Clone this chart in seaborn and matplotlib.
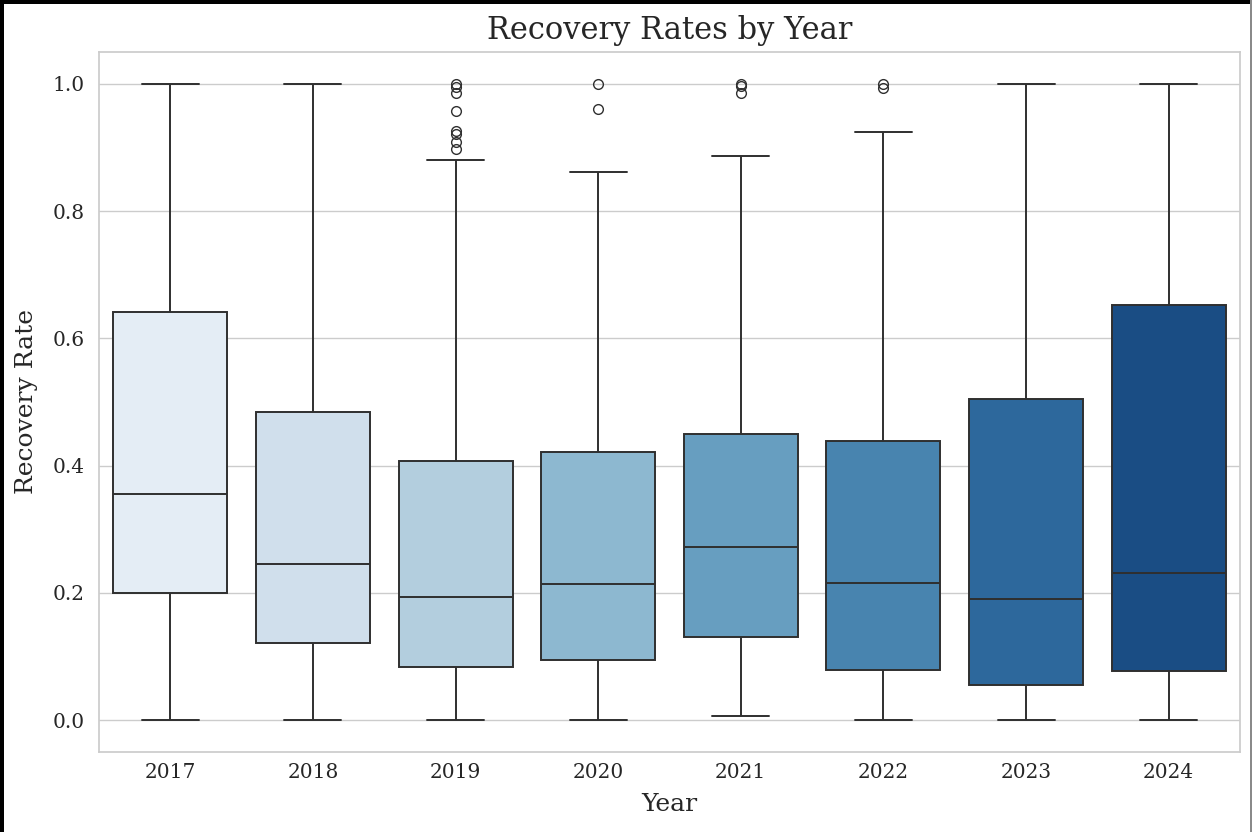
import matplotlib
matplotlib.use("Agg")
import matplotlib.pyplot as plt
from matplotlib.lines import Line2D
import seaborn as sns
import pandas as pd

# Summary statistics of recovery rates per year
years = ["2017", "2018", "2019", "2020", "2021", "2022", "2023", "2024"]
lower_whisker = [0.000, 0.000, 0.000, 0.000, 0.006, 0.000, 0.000, 0.000]
q1 = [0.200, 0.122, 0.084, 0.095, 0.130, 0.079, 0.055, 0.077]
median = [0.356, 0.245, 0.194, 0.214, 0.272, 0.216, 0.190, 0.231]
q3 = [0.641, 0.484, 0.407, 0.422, 0.449, 0.438, 0.505, 0.653]
upper_whisker = [1.000, 1.000, 0.880, 0.862, 0.887, 0.924, 1.000, 1.000]
outliers = [
    [],
    [],
    [1.000, 0.995, 0.985, 0.957, 0.926, 0.921, 0.908, 0.898],
    [1.000, 0.960],
    [1.000, 0.997, 0.985],
    [1.000, 0.994],
    [],
    [],
]


def year_sample(lo, a, m, b, hi, extra):
    """Observations whose quartiles, whiskers and fliers equal the given values."""
    top = [hi] + list(extra)
    k = len(top)
    return ([lo] + [a] * (k - 1) + [a] + [m] * (k - 1) + [m]
            + [b] * (k - 1) + [b] + top)


rows = []
for i, yr in enumerate(years):
    for v in year_sample(lower_whisker[i], q1[i], median[i], q3[i],
                         upper_whisker[i], outliers[i]):
        rows.append({"Year": yr, "Recovery Rate": v})
df = pd.DataFrame(rows)

sns.set_theme(style="whitegrid")
plt.rcParams["font.family"] = ["DejaVu Serif"]

W, H = 1252, 832
fig = plt.figure(figsize=(W / 100, H / 100), dpi=100)
ax = fig.add_axes([99 / W, 1 - 752 / H, (1240 - 99) / W, (752 - 52) / H])

sns.boxplot(data=df, x="Year", y="Recovery Rate", hue="Year",
            palette=sns.color_palette("Blues", len(years)), legend=False,
            order=years, hue_order=years, linewidth=1.4, fliersize=7,
            ax=ax)

ax.set_title("Recovery Rates by Year", fontsize=22, pad=9)
ax.set_xlabel("Year", fontsize=18, labelpad=8)
ax.set_ylabel("Recovery Rate", fontsize=18, labelpad=11)
ax.tick_params(axis="both", labelsize=14.5, length=0)
ax.tick_params(axis="y", pad=10)
ax.tick_params(axis="x", pad=8)

# frame around the figure
px = 72 / 100
fig.add_artist(Line2D([2 / W, 2 / W], [0, 1], transform=fig.transFigure,
                      color="black", linewidth=4 * px))
fig.add_artist(Line2D([0, 1], [1 - 2 / H, 1 - 2 / H],
                      transform=fig.transFigure, color="black",
                      linewidth=4 * px))
fig.add_artist(Line2D([1 - 1.5 / W, 1 - 1.5 / W], [0, 1],
                      transform=fig.transFigure, color="#8a8a8a",
                      linewidth=2 * px))

fig.savefig("out.png", dpi=100)
